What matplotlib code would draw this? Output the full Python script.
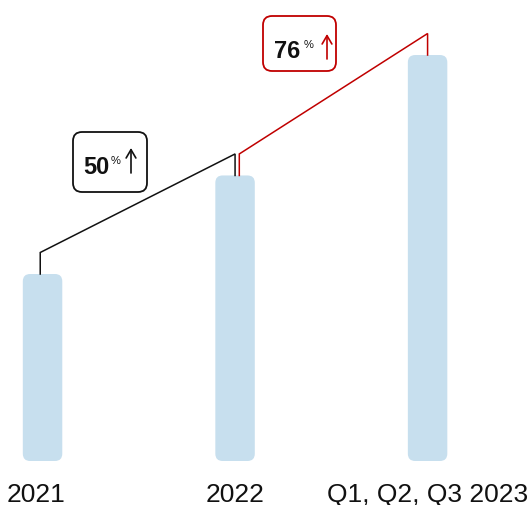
import numpy as np
import matplotlib.pyplot as plt
from matplotlib.patches import FancyBboxPatch

plt.rcParams['font.family'] = ['Liberation Sans', 'DejaVu Sans']

## data
periods = ['2021', '2022', 'Q1, Q2, Q3 2023']
volume = [100, 152.7, 217.1]
growth = [50, 76]

## styles
bar_color = '#C7DFEE'
growth_colors = ['#111111', '#C00000']
label_nudge = [-5, 0, 0]          # points, keeps first label inside the frame
W, H = 530, 506


def at(px, py):
    ## pixel position (from top-left) -> axes fraction
    return (px / W, 1 - py / H)


fig = plt.figure(figsize=(W / 100, H / 100), dpi=100)
ax = fig.add_axes([0, 0, 1, 1])
ax.set_xlim(-0.221, 2.532)
ax.set_ylim(-23.53, 247.06)
ax.axis('off')

x = np.arange(len(periods))
bars = ax.bar(x, volume, width=0.205, color=bar_color)

## swap plain rectangles for rounded ones
p0 = ax.transData.transform((0, 0))
p1 = ax.transData.transform((1, 1))
aspect = (p1[0] - p0[0]) / (p1[1] - p0[1])
for rect in bars:
    bx, by = rect.get_xy()
    bw, bh = rect.get_width(), rect.get_height()
    rect.set_visible(False)
    ax.add_patch(FancyBboxPatch((bx, by), bw, bh,
                                boxstyle='round,pad=0,rounding_size=0.038',
                                mutation_aspect=aspect, fc=bar_color, ec='none'))

## step connectors between bar tops
off = 11.5
shift = [(-0.012, 0.0), (0.022, 0.0)]
for i in range(len(growth)):
    xa = x[i] + shift[i][0]
    xb = x[i + 1] + shift[i][1]
    ya, yb = volume[i], volume[i + 1]
    ax.plot([xa, xa, xb, xb], [ya, ya + off, yb + off, yb],
            color=growth_colors[i], lw=1.1, solid_joinstyle='miter', zorder=3)

## growth boxes
boxes = [(73, 133, 74, 60), (263, 17, 73, 55)]
num_pos = [(96.5, 164.5), (287.5, 48.5)]
pct_pos = [(116, 156.5), (308.5, 40.5)]
arrow_x = [131, 327]
arrow_y = [(174, 149), (60, 35)]
for i, g in enumerate(growth):
    bx, by, bw, bh = boxes[i]
    ax.add_patch(FancyBboxPatch(at(bx, by + bh), bw / W, bh / H,
                                boxstyle='round,pad=0,rounding_size=0.017',
                                mutation_aspect=W / H, transform=ax.transAxes,
                                fc='white', ec=growth_colors[i], lw=1.3, zorder=4))
    ax.text(*at(*num_pos[i]), f'{g}', transform=ax.transAxes, fontsize=17,
            fontweight='bold', ha='center', va='center_baseline', color='#111111', zorder=5)
    ax.text(*at(*pct_pos[i]), '%', transform=ax.transAxes, fontsize=8,
            ha='center', va='top', color='#111111', zorder=5)
    ax.annotate('', xy=at(arrow_x[i], arrow_y[i][1]), xytext=at(arrow_x[i], arrow_y[i][0]),
                xycoords='axes fraction', zorder=5,
                arrowprops=dict(arrowstyle='->,head_length=0.6,head_width=0.35',
                                lw=1.2, color=growth_colors[i], shrinkA=0, shrinkB=0))

## period labels under the bars
for xi, lab, nd in zip(x, periods, label_nudge):
    ax.annotate(lab, xy=(xi, 1 - 502.5 / H), xycoords=ax.get_xaxis_transform(),
                xytext=(nd, 0), textcoords='offset points',
                ha='center', va='baseline', fontsize=19, color='#111111')

fig.savefig('out.png', dpi=100, facecolor='white')
